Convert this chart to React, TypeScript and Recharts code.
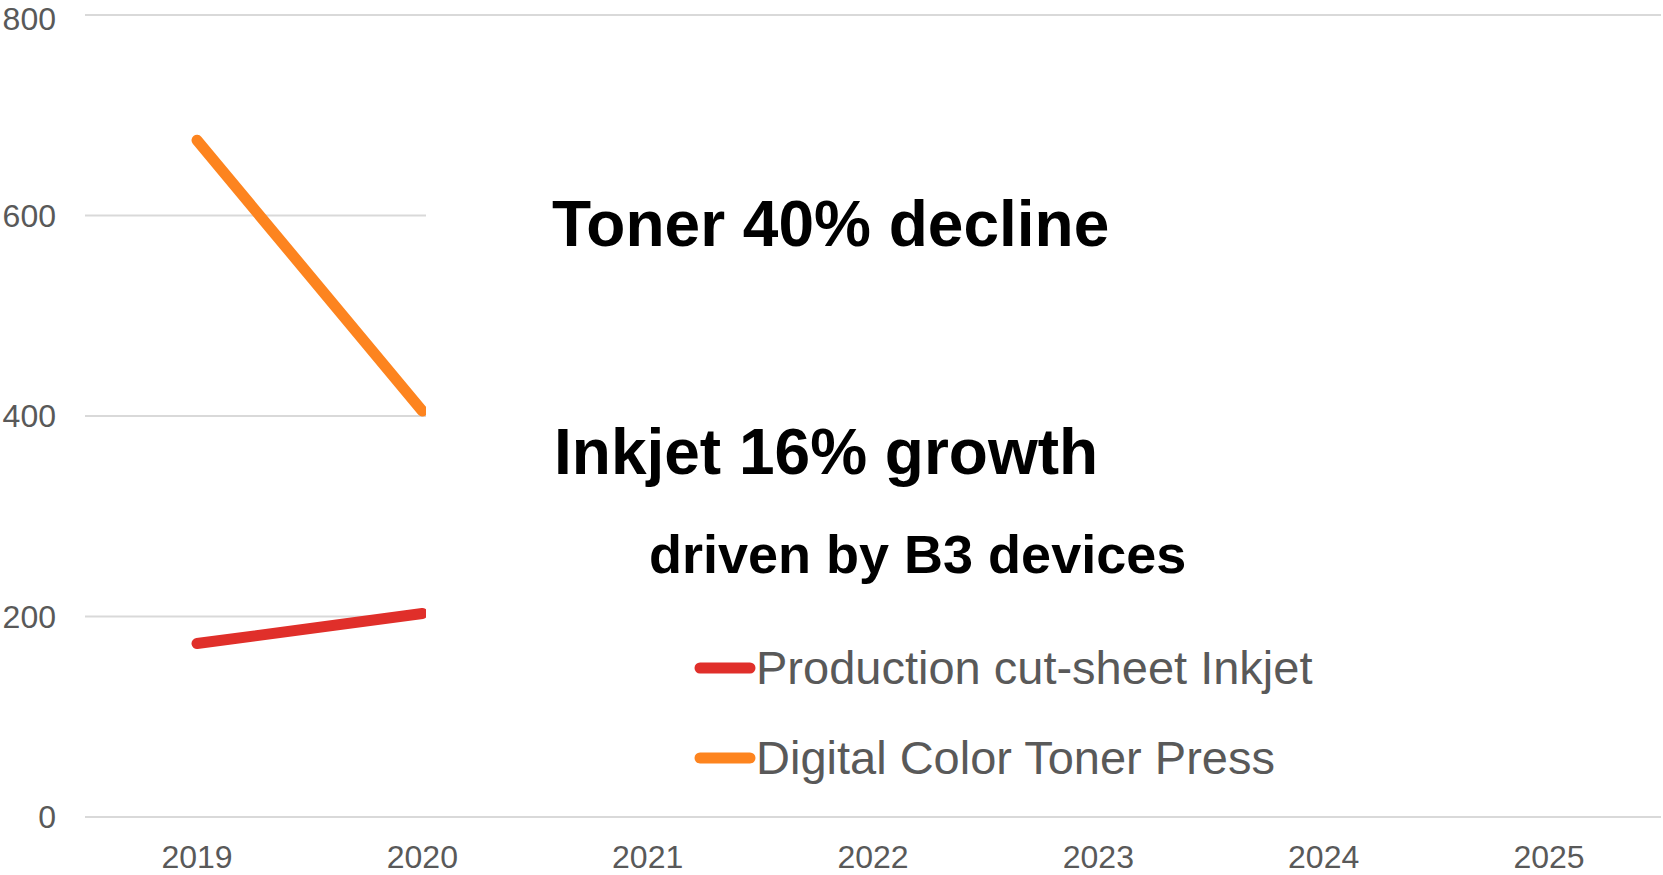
import React from 'react';
import { LineChart, Line, XAxis, YAxis, CartesianGrid, Legend } from 'recharts';

const years = ['2019', '2020', '2021', '2022', '2023', '2024', '2025'];
const inkjet = [173, 203, null, null, null, null, null];
const toner = [675, 405, null, null, null, null, null];
const yTicks = [0, 200, 400, 600, 800];

const seriesNames = ['Production cut-sheet Inkjet', 'Digital Color Toner Press'];
const seriesColors = ['#E02F2A', '#FD841F'];

const data = years.map((year, i) => ({ year, inkjet: inkjet[i], toner: toner[i] }));

const axisFont = 'Liberation Sans, Arial, sans-serif';

function LegendBox(props: any) {
  // keep the series order, not alphabetical
  const payload = [...(props.payload || [])].sort(
    (a: any, b: any) => seriesNames.indexOf(a.value) - seriesNames.indexOf(b.value)
  );
  return (
    <svg width={700} height={180}>
      {payload.map((p: any, i: number) => (
        <g key={p.value} transform={`translate(0, ${i * 90 + 45})`}>
          <line x1={6} y1={0} x2={56} y2={0} stroke={p.color} strokeWidth={11} strokeLinecap="round" />
          <text x={62} y={0} dy="0.35em" fontSize={47} fill="#595959" fontFamily={axisFont}>
            {p.value}
          </text>
        </g>
      ))}
    </svg>
  );
}

export default function App() {
  return (
    <div style={{ position: 'absolute', left: 0, top: 0, width: 1663, height: 875, background: '#fff' }}>
      <LineChart width={1663} height={875} data={data} margin={{ top: 15, right: 2, left: 0, bottom: 0 }}>
        <CartesianGrid vertical={false} stroke="#D9D9D9" strokeWidth={2} />
        <XAxis
          dataKey="year"
          height={58}
          padding={{ left: 112, right: 112 }}
          tickLine={false}
          axisLine={{ stroke: '#D9D9D9', strokeWidth: 2 }}
          tickSize={6}
          tickMargin={22}
          tick={{ fill: '#595959', fontSize: 32, fontFamily: axisFont }}
          interval={0}
        />
        <YAxis
          width={85}
          domain={[0, 800]}
          ticks={yTicks}
          axisLine={false}
          tickLine={false}
          tickSize={6}
          tickMargin={23}
          tick={{ fill: '#595959', fontSize: 32, fontFamily: axisFont }}
        />
        <Legend
          layout="horizontal"
          verticalAlign="middle"
          align="center"
          content={<LegendBox />}
          wrapperStyle={{ left: 694, top: 623, width: 700, height: 180, zIndex: 2 }}
        />
        <Line
          type="linear"
          dataKey="inkjet"
          name={seriesNames[0]}
          stroke={seriesColors[0]}
          strokeWidth={11}
          strokeLinecap="round"
          dot={false}
          isAnimationActive={false}
        />
        <Line
          type="linear"
          dataKey="toner"
          name={seriesNames[1]}
          stroke={seriesColors[1]}
          strokeWidth={11}
          strokeLinecap="round"
          dot={false}
          isAnimationActive={false}
        />
      </LineChart>
      {/* white panel masking the forecast years, with the commentary */}
      <svg
        width={1663}
        height={875}
        style={{ position: 'absolute', left: 0, top: 0, zIndex: 1, pointerEvents: 'none' }}
      >
        <rect x={426} y={30} width={1237} height={775} fill="#fff" />
        <text x={552} y={246} fontSize={64} fontWeight="bold" fill="#000" fontFamily={axisFont}>
          Toner 40% decline
        </text>
        <text x={554} y={474} fontSize={64} fontWeight="bold" fill="#000" fontFamily={axisFont}>
          Inkjet 16% growth
        </text>
        <text x={649} y={573} fontSize={54} fontWeight="bold" fill="#000" fontFamily={axisFont}>
          driven by B3 devices
        </text>
      </svg>
    </div>
  );
}
